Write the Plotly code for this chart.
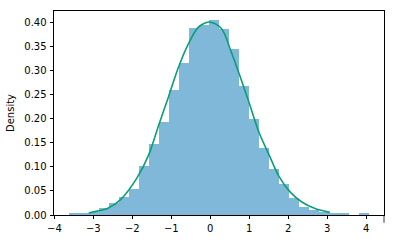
import plotly.graph_objects as go

# Histogram bins (left edges) and density heights
bin_edges = [-3.613, -3.356, -3.100, -2.843, -2.587, -2.330, -2.073, -1.817, -1.560,
             -1.304, -1.047, -0.790, -0.534, -0.277, -0.021, 0.236, 0.493, 0.749,
             1.006, 1.262, 1.519, 1.776, 2.032, 2.289, 2.545, 2.802, 3.059, 3.315,
             3.572, 3.828, 4.085]
densities = [0.004, 0.004, 0.007, 0.014, 0.024, 0.038, 0.055, 0.101, 0.148, 0.194,
             0.260, 0.316, 0.389, 0.395, 0.405, 0.387, 0.344, 0.268, 0.199, 0.140,
             0.096, 0.065, 0.036, 0.017, 0.011, 0.007, 0.004, 0.004, 0.0, 0.004]

# Density curve points
curve_x = [-3.12, -2.90, -2.64, -2.30, -1.88, -1.58, -1.33, -1.07, -0.82, -0.57, -0.31,
           -0.10, -0.02, 0.28, 0.53, 0.74, 1.00, 1.25, 1.51, 1.76, 2.06, 2.35, 2.69, 3.07]
curve_y = [0.004, 0.008, 0.0135, 0.032, 0.077, 0.125, 0.185, 0.246, 0.306, 0.354, 0.390,
           0.400, 0.401, 0.388, 0.341, 0.294, 0.233, 0.172, 0.125, 0.081, 0.047, 0.027,
           0.0135, 0.0055]

x_ticks = [-4, -3, -2, -1, 0, 1, 2, 3, 4]
x_tick_labels = ["\u22124", "\u22123", "\u22122", "\u22121", "0", "1", "2", "3", "4"]
y_ticks = [0.00, 0.05, 0.10, 0.15, 0.20, 0.25, 0.30, 0.35, 0.40]

centers = [(a + b) / 2 for a, b in zip(bin_edges[:-1], bin_edges[1:])]
widths = [b - a for a, b in zip(bin_edges[:-1], bin_edges[1:])]

fig = go.Figure()
fig.add_trace(go.Bar(x=centers, y=densities, width=widths,
                     marker=dict(color="rgb(128,184,217)", line=dict(width=0)),
                     hoverinfo="skip"))
fig.add_trace(go.Scatter(x=curve_x, y=curve_y, mode="lines",
                         line=dict(color="#0a9e74", width=1.6, shape="spline", smoothing=1.0)))

fig.update_layout(
    width=395, height=244,
    margin=dict(l=50, r=10, t=10, b=24),
    plot_bgcolor="white", paper_bgcolor="white",
    showlegend=False, bargap=0,
    font=dict(family="DejaVu Sans", size=10, color="#000"),
)
fig.update_xaxes(range=[-4.01, 4.46], tickvals=x_ticks, ticktext=x_tick_labels,
                 showgrid=False, zeroline=False, showline=True, mirror=True,
                 linecolor="#000", linewidth=0.8, ticks="outside", ticklen=3.5,
                 tickwidth=0.8, tickcolor="#000", ticklabelstandoff=1)
fig.update_yaxes(range=[0, 0.424], tickvals=y_ticks, tickformat=".2f",
                 showgrid=False, zeroline=False, showline=True, mirror=True,
                 linecolor="#000", linewidth=0.8, ticks="outside", ticklen=3.5,
                 tickwidth=0.8, tickcolor="#000", ticklabelstandoff=1,
                 title=dict(text="Density", standoff=7, font=dict(size=10)))
# right spine extends slightly below the x-axis
fig.add_shape(type="line", xref="paper", yref="paper", x0=1, x1=1, y0=0, y1=-0.038,
              line=dict(color="#000", width=0.8))

fig.write_html("out.html")
